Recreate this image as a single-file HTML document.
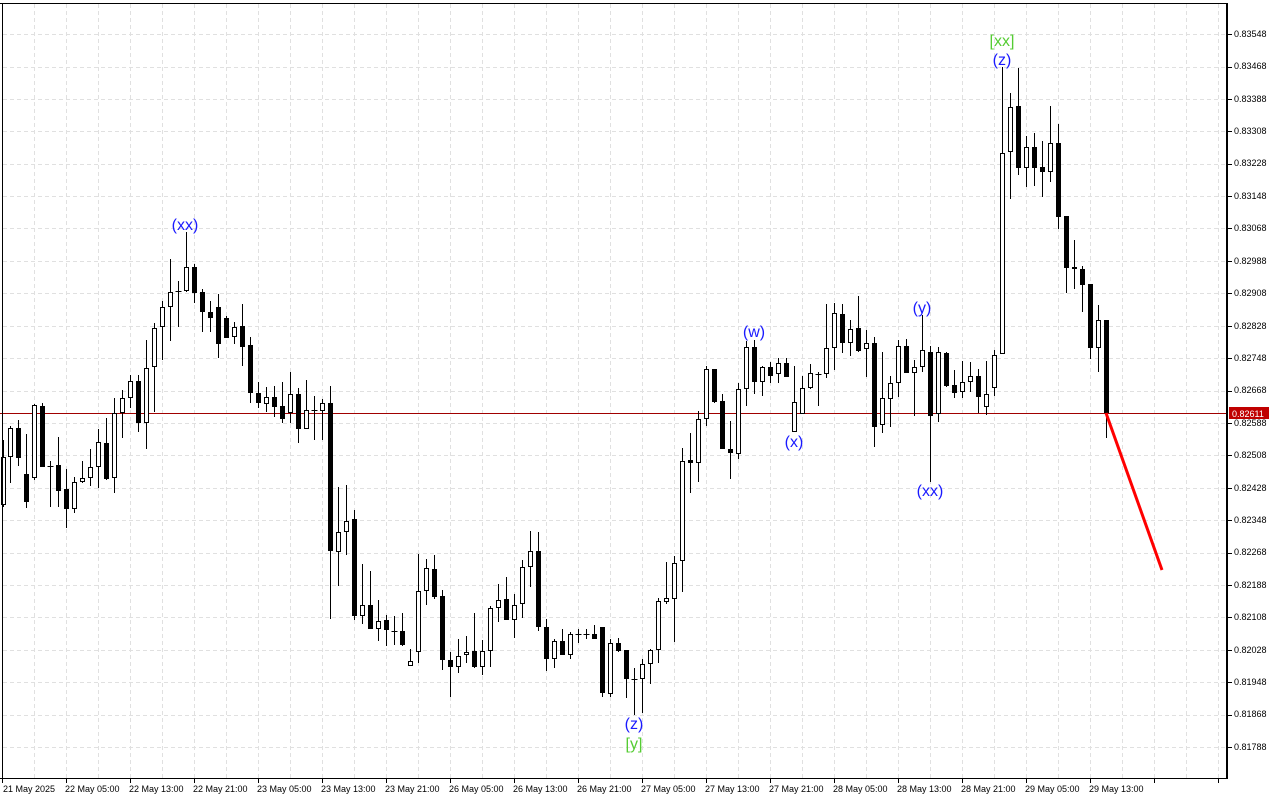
<!DOCTYPE html>
<html><head><meta charset="utf-8"><style>
html,body{margin:0;padding:0;background:#fff;width:1280px;height:800px;overflow:hidden}
svg{display:block}
.ax{font-family:"Liberation Sans",sans-serif;font-size:9px;fill:#000}
.lb{font-family:"Liberation Sans",sans-serif;font-size:16px}
</style></head><body>
<svg id="s" width="1280" height="800" viewBox="0 0 1280 800" xmlns="http://www.w3.org/2000/svg">
<rect width="1280" height="800" fill="#fff"/>
<g id="grid" stroke="#e0e0e0" stroke-width="1" stroke-dasharray="4,3"></g>
<line x1="0" y1="413.5" x2="1227" y2="413.5" stroke="#a00000" stroke-width="1"/>
<g id="c"></g>
<line x1="1106" y1="413" x2="1162" y2="570" stroke="#ff0000" stroke-width="3"/>
<line x1="2.5" y1="3" x2="2.5" y2="778" stroke="#000"/>
<line x1="0" y1="3.5" x2="1228" y2="3.5" stroke="#000"/>
<line x1="0" y1="778.5" x2="1228" y2="778.5" stroke="#000"/>
<line x1="1227" y1="3" x2="1227" y2="779" stroke="#000" stroke-width="2"/>
<g id="ticks" stroke="#000"></g>
<rect x="1229" y="407" width="40" height="12" fill="#c00000"/>
<g class="ax">
<text x="1234" y="37">0.83548</text><text x="1234" y="69">0.83468</text><text x="1234" y="102">0.83388</text><text x="1234" y="134">0.83308</text><text x="1234" y="166">0.83228</text><text x="1234" y="199">0.83148</text><text x="1234" y="231">0.83068</text><text x="1234" y="264">0.82988</text><text x="1234" y="296">0.82908</text><text x="1234" y="329">0.82828</text><text x="1234" y="361">0.82748</text><text x="1234" y="393">0.82668</text><text x="1234" y="426">0.82588</text><text x="1234" y="458">0.82508</text><text x="1234" y="491">0.82428</text><text x="1234" y="523">0.82348</text><text x="1234" y="555">0.82268</text><text x="1234" y="588">0.82188</text><text x="1234" y="620">0.82108</text><text x="1234" y="653">0.82028</text><text x="1234" y="685">0.81948</text><text x="1234" y="717">0.81868</text><text x="1234" y="750">0.81788</text>
<text x="1232" y="417" fill="#fff">0.82611</text>
<text x="3" y="792">21 May 2025</text><text x="65" y="792">22 May 05:00</text><text x="129" y="792">22 May 13:00</text><text x="193" y="792">22 May 21:00</text><text x="257" y="792">23 May 05:00</text><text x="321" y="792">23 May 13:00</text><text x="385" y="792">23 May 21:00</text><text x="449" y="792">26 May 05:00</text><text x="513" y="792">26 May 13:00</text><text x="577" y="792">26 May 21:00</text><text x="641" y="792">27 May 05:00</text><text x="705" y="792">27 May 13:00</text><text x="769" y="792">27 May 21:00</text><text x="833" y="792">28 May 05:00</text><text x="897" y="792">28 May 13:00</text><text x="961" y="792">28 May 21:00</text><text x="1025" y="792">29 May 05:00</text><text x="1089" y="792">29 May 13:00</text>
</g>
<g class="lb" text-anchor="middle" fill="#1a1aff">
<text x="185" y="230">(xx)</text>
<text x="754" y="337">(w)</text>
<text x="794" y="447">(x)</text>
<text x="922" y="313">(y)</text>
<text x="930" y="496">(xx)</text>
<text x="1002" y="65">(z)</text>
<text x="634" y="729">(z)</text>
</g>
<g class="lb" text-anchor="middle" fill="#55cc33">
<text x="1002" y="46">[xx]</text>
<text x="634" y="749">[y]</text>
</g>
</svg>
<script>
var NS="http://www.w3.org/2000/svg";
function el(p,t,a){var e=document.createElementNS(NS,t);for(var k in a)e.setAttribute(k,a[k]);p.appendChild(e);return e;}
var g=document.getElementById("grid");
for(var x=34;x<1227;x+=32)el(g,"line",{x1:x+.5,y1:4,x2:x+.5,y2:778});
var tk=document.getElementById("ticks");
for(var i=0;i<23;i++){var y=Math.round(34.1+32.4*i)+.5;el(g,"line",{x1:3,y1:y,x2:1226,y2:y});el(tk,"line",{x1:1228,y1:y,x2:1232,y2:y});}
for(var x=2;x<1227;x+=64)el(tk,"line",{x1:x+.5,y1:779,x2:x+.5,y2:783});
var d=[[3,440,457,505,507,'W'],[10,426,428,457,483,'W'],[18,420,428,458,466,'B'],[26,434,474,502,508,'B'],[34,404,405,478,480,'W'],[42,403,406,467,467,'B'],[50,461,466,466,507,'D'],[58,437,465,491,507,'B'],[66,469,489,509,528,'B'],[74,477,482,509,513,'W'],[82,461,478,482,483,'W'],[90,449,467,478,486,'W'],[98,429,442,467,488,'W'],[106,418,443,479,480,'B'],[114,398,413,478,493,'W'],[122,390,398,413,438,'W'],[130,375,381,398,408,'W'],[138,375,381,423,432,'B'],[146,340,368,423,449,'W'],[154,323,328,367,412,'W'],[162,301,307,327,360,'W'],[170,259,292,307,341,'W'],[178,281,291,291,327,'D'],[186,232,267,291,292,'W'],[194,264,267,293,303,'B'],[202,289,292,312,332,'B'],[210,301,312,318,332,'B'],[218,294,307,344,358,'B'],[226,316,318,338,338,'B'],[234,322,327,337,344,'W'],[242,304,326,347,366,'B'],[250,337,345,393,403,'B'],[258,382,393,403,408,'B'],[266,387,397,404,412,'W'],[274,386,397,407,417,'B'],[282,382,406,419,423,'B'],[290,372,394,413,423,'W'],[298,388,394,429,443,'B'],[306,380,410,429,429,'W'],[314,396,410,410,440,'D'],[322,399,403,411,440,'W'],[330,386,403,551,619,'B'],[338,487,532,552,586,'W'],[346,485,521,532,555,'W'],[354,510,519,616,620,'B'],[362,564,605,616,624,'W'],[370,571,605,629,629,'B'],[378,600,621,629,641,'W'],[386,615,620,630,646,'B'],[394,616,631,631,645,'D'],[402,613,631,645,646,'B'],[410,649,661,666,666,'W'],[418,554,591,652,663,'W'],[426,559,568,591,605,'W'],[434,555,569,597,599,'B'],[442,590,596,660,670,'B'],[450,652,660,667,697,'B'],[458,639,656,667,673,'W'],[466,636,652,655,663,'W'],[474,613,651,667,668,'B'],[482,640,651,667,675,'W'],[490,606,608,651,667,'W'],[498,584,600,608,622,'W'],[506,577,599,620,620,'B'],[514,594,605,620,638,'W'],[522,560,567,604,618,'W'],[530,531,551,567,587,'W'],[538,532,551,627,631,'B'],[546,619,627,659,671,'B'],[554,639,641,659,668,'W'],[562,629,641,655,655,'B'],[570,632,634,655,659,'W'],[578,629,634,634,643,'D'],[586,629,634,634,639,'D'],[594,625,634,639,639,'B'],[602,627,627,693,697,'B'],[610,639,643,694,697,'W'],[618,638,643,651,652,'B'],[626,650,650,679,698,'B'],[634,668,679,679,715,'D'],[642,659,664,679,713,'W'],[650,649,650,664,684,'W'],[658,598,601,650,663,'W'],[666,562,598,602,604,'W'],[674,556,563,599,642,'W'],[682,448,461,561,592,'W'],[690,433,460,463,493,'B'],[698,411,419,463,482,'W'],[706,366,369,419,426,'W'],[714,369,369,402,403,'B'],[722,394,401,449,449,'B'],[730,421,449,453,479,'B'],[738,383,389,454,459,'W'],[746,341,347,389,406,'W'],[754,340,347,382,394,'B'],[762,366,367,382,396,'W'],[770,362,367,376,383,'B'],[778,358,363,374,383,'W'],[786,358,363,377,377,'B'],[794,366,402,432,432,'W'],[802,376,388,414,414,'W'],[810,364,373,388,389,'W'],[818,372,374,374,406,'D'],[826,304,348,374,378,'W'],[834,303,313,348,370,'W'],[842,304,314,343,353,'B'],[850,320,329,343,356,'W'],[858,296,328,351,352,'B'],[866,330,343,349,377,'W'],[874,337,343,427,447,'B'],[882,352,398,425,433,'W'],[890,376,383,399,427,'W'],[898,340,346,383,397,'W'],[906,339,346,373,373,'B'],[914,360,367,373,416,'W'],[922,315,350,367,372,'W'],[930,346,352,416,482,'B'],[938,347,352,414,422,'W'],[946,352,353,386,387,'B'],[954,370,385,393,398,'B'],[962,361,382,392,398,'W'],[970,362,376,382,392,'W'],[978,369,376,397,413,'B'],[986,361,394,407,415,'W'],[994,350,355,388,396,'W'],[1002,67,153,354,354,'W'],[1010,93,107,152,199,'W'],[1018,68,106,168,175,'B'],[1026,136,147,168,187,'W'],[1034,133,147,168,186,'B'],[1042,141,167,172,197,'B'],[1050,106,143,172,182,'W'],[1058,124,143,217,229,'B'],[1066,216,216,268,293,'B'],[1074,240,267,269,289,'B'],[1082,266,269,285,312,'B'],[1090,284,284,348,359,'B'],[1098,305,320,348,372,'W'],[1106,320,320,413,438,'B']];
var c=document.getElementById("c");
d.forEach(function(a){var x=a[0]+.5;
el(c,"line",{x1:x,y1:a[1],x2:x,y2:a[4],stroke:"#000","stroke-width":1});
if(a[5]=='D'){el(c,"line",{x1:x-3,y1:a[2]+.5,x2:x+3,y2:a[2]+.5,stroke:"#000","stroke-width":1});}
else if(a[5]=='B'){el(c,"rect",{x:a[0]-2,y:a[2],width:5,height:Math.max(2,a[3]-a[2]),fill:"#000"});}
else{el(c,"rect",{x:a[0]-1.5,y:a[2]+.5,width:4,height:Math.max(1,a[3]-a[2]-1),fill:"#fff",stroke:"#000","stroke-width":1});}
});
</script>
</body></html>
